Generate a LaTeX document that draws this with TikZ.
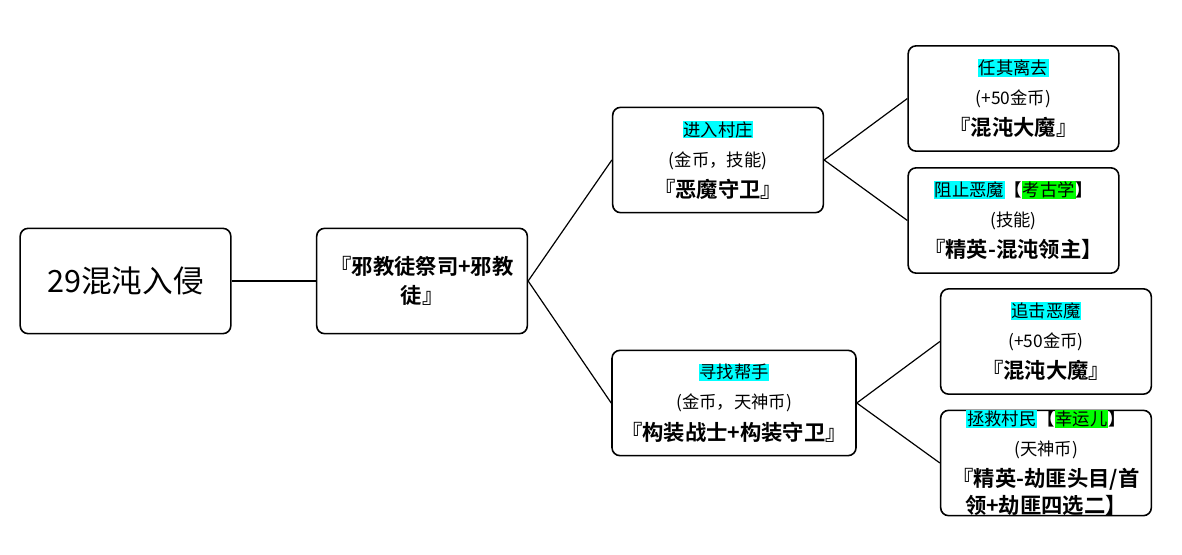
\documentclass[tikz,border=0pt]{standalone}
\usepackage{fontspec}
\setmainfont{Noto Sans CJK SC}[BoldFont={Noto Sans CJK SC Bold}]
\definecolor{hlcyan}{HTML}{00FFFF}
\definecolor{hlgreen}{HTML}{00FF00}
\newcommand\hlc[1]{{\setlength{\fboxsep}{0.6pt}\colorbox{hlcyan}{#1}}}
\newcommand\hlg[1]{{\setlength{\fboxsep}{0.6pt}\colorbox{hlgreen}{#1}}}
\newcommand\bigb[1]{{\fontsize{16}{22}\selectfont\bfseries #1}}
\tikzset{
  box/.style={draw, line width=1.2pt, rounded corners=6pt, align=center,
    minimum width=158pt, minimum height=79pt, inner sep=0pt,
    font=\fontsize{13}{22.5}\selectfont},
  link/.style={line width=0.9pt}
}
\begin{document}
\begin{tikzpicture}[x=0.75pt,y=0.75pt]
\useasboundingbox (0,0) rectangle (1182,554);
% root and first level
\node[box,font=\fontsize{23}{28}\selectfont] (root) at (125.5,273) {29混沌入侵};
\node[box] (cult) at (422,273) {\bigb{『邪教徒祭司+邪教}\\[-1pt]\bigb{徒』}};

% second level
\node[box] (village) at (718,394) {\hlc{进入村庄}\\(金币，技能)\\[1pt]\bigb{『恶魔守卫』}};
\node[box,minimum width=183pt] (helper) at (734,151) {\hlc{寻找帮手}\\(金币，天神币)\\[1pt]\bigb{『构装战士+构装守卫』}};

% third level
\node[box] (leave) at (1013.5,455.5) {\hlc{任其离去}\\(+50金币)\\[1pt]\bigb{『混沌大魔』}};
\node[box] (stop) at (1013.5,333.5) {\hlc{阻止恶魔}\textbf{【}\hlg{考古学}\textbf{】}\\(技能)\\[1pt]\bigb{『精英-混沌领主】}};
\node[box] (chase) at (1046,212.5) {\hlc{追击恶魔}\\(+50金币)\\[1pt]\bigb{『混沌大魔』}};
\node[box] (rescue) at (1046,91) {};
\node[align=center,inner sep=0pt,font=\fontsize{13}{22.5}\selectfont] (rescuetxt) at (rescue.center)
  {\hlc{拯救村民}\textbf{【}\hlg{幸运儿}\textbf{】}\\(天神币)\\[1pt]\bigb{『精英-劫匪头目/首}\\[-2pt]\bigb{领+劫匪四选二】}};

% connectors
\draw[link] (root.east) -- (cult.west);
\draw[link] (cult.east) -- (village.west);
\draw[link] (cult.east) -- (helper.west);
\draw[link] (village.east) -- (leave.west);
\draw[link] (village.east) -- (stop.west);
\draw[link] (helper.east) -- (chase.west);
\draw[link] (helper.east) -- (rescue.west);
\end{tikzpicture}
\end{document}
